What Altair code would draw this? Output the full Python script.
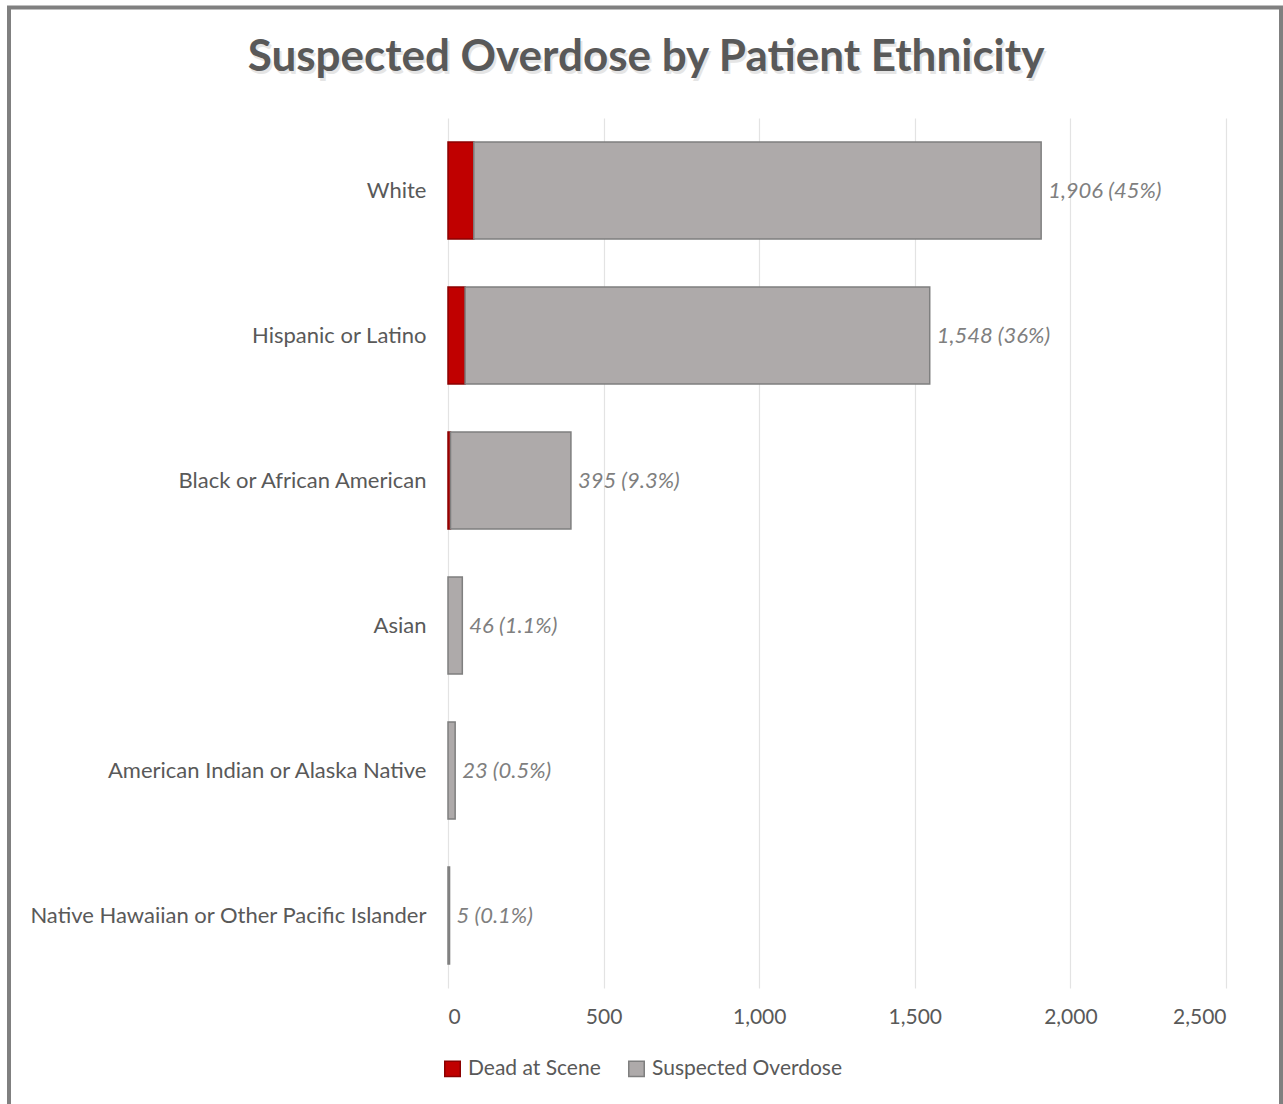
import altair as alt
import pandas as pd

categories = ["White", "Hispanic or Latino", "Black or African American", "Asian",
              "American Indian or Alaska Native", "Native Hawaiian or Other Pacific Islander"]
dead_at_scene = [83, 55, 8, 0, 0, 0]
suspected_rest = [1823, 1493, 387, 46, 23, 5]
totals = [1906, 1548, 395, 46, 23, 5]
pct_labels = ["45%", "36%", "9.3%", "1.1%", "0.5%", "0.1%"]
series = ["Dead at Scene", "Suspected Overdose"]
x_ticks = [0, 500, 1000, 1500, 2000, 2500]
title_text = "Suspected Overdose by Patient Ethnicity"

rows = []
for c, d, s in zip(categories, dead_at_scene, suspected_rest):
    if d > 0:
        rows.append({"cat": c, "series": series[0], "value": d, "ord": 0})
    rows.append({"cat": c, "series": series[1], "value": s, "ord": 1})
df = pd.DataFrame(rows)

lab = pd.DataFrame({
    "cat": categories,
    "total": totals,
    "label": [f"{t:,} ({p})" for t, p in zip(totals, pct_labels)],
})
tdf = pd.DataFrame({"t": [title_text]})

FONT = "Lato"
TXT = "#595959"

y_enc = alt.Y("cat:N", sort=categories, title=None,
              scale=alt.Scale(paddingInner=0.33, paddingOuter=0.165),
              axis=alt.Axis(labelFontSize=22, labelColor=TXT, labelFont=FONT,
                            labelPadding=22, ticks=False, domain=False, grid=False,
                            labelLimit=500))

bars = alt.Chart(df).mark_bar(strokeWidth=1.5).encode(
    x=alt.X("value:Q", stack="zero", title=None,
            scale=alt.Scale(domain=[0, 2500], nice=False),
            axis=alt.Axis(values=x_ticks, format=",.0f", labelFontSize=21, labelColor=TXT,
                          labelFont=FONT, labelPadding=18, ticks=False, domain=False,
                          grid=True, gridColor="#e3e3e3", gridWidth=1.2)),
    y=y_enc,
    color=alt.Color("series:N", sort=series,
                    scale=alt.Scale(domain=series, range=["#C00000", "#AEAAAA"]),
                    legend=alt.Legend(title=None, orient="none", direction="horizontal",
                                      legendX=-6, legendY=940, symbolType="square",
                                      symbolSize=240, symbolStrokeWidth=1.5,
                                      labelFontSize=21, labelColor=TXT, labelFont=FONT,
                                      columnPadding=24, labelOffset=5, labelLimit=400)),
    stroke=alt.Stroke("series:N", sort=series,
                      scale=alt.Scale(domain=series, range=["#8B0000", "#7F7F7F"]),
                      legend=None),
    order=alt.Order("ord:Q"),
)

texts = alt.Chart(lab).mark_text(align="left", baseline="middle", dx=7, fontSize=22,
                                 fontStyle="italic", color="#7F7F7F", font=FONT).encode(
    x=alt.X("total:Q"),
    y=alt.Y("cat:N", sort=categories),
    text="label:N",
)

title_shadow = alt.Chart(tdf).mark_text(align="center", baseline="middle", fontSize=44,
                                        font=FONT, fontWeight="bold", color="#d4d4d4",
                                        opacity=0.6, dx=2, dy=3).encode(
    x=alt.value(198), y=alt.value(-60), text="t:N")
title = alt.Chart(tdf).mark_text(align="center", baseline="middle", fontSize=44,
                                 font=FONT, fontWeight="bold", color=TXT).encode(
    x=alt.value(198), y=alt.value(-60), text="t:N")

frame = alt.Chart(tdf).mark_rect(fill=None, stroke="#808080", strokeWidth=4).encode(
    x=alt.value(-439), x2=alt.value(833), y=alt.value(-110.5), y2=alt.value(1010)
)

chart = alt.layer(bars, texts, title_shadow, title, frame).properties(
    width=778, height=870,
    padding={"left": 448, "top": 118, "right": 57, "bottom": 116},
    autosize=alt.AutoSizeParams(type="none"),
    background="white",
).configure_view(stroke=None)

chart.save("out.html", embed_options={"renderer": "svg", "actions": False})
